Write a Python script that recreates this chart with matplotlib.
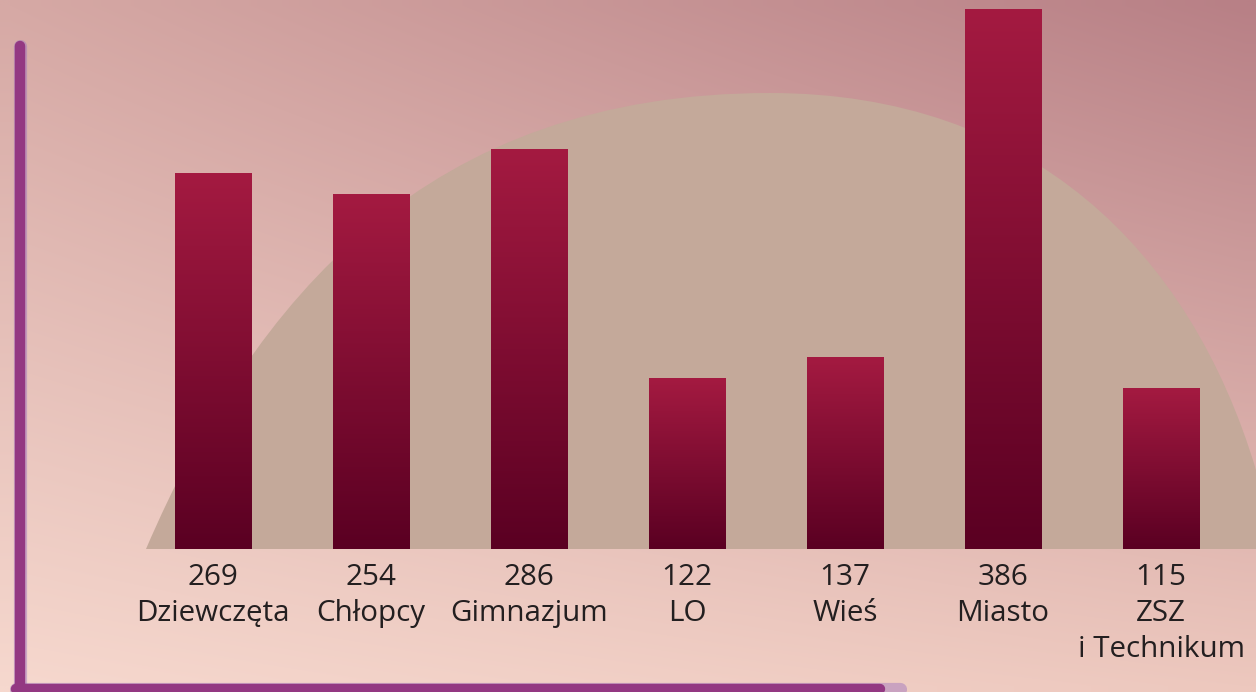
import matplotlib
matplotlib.use("Agg")
import matplotlib.pyplot as plt
import numpy as np
from matplotlib.path import Path
from matplotlib.patches import PathPatch
from matplotlib.colors import LinearSegmentedColormap

# data
categories = ["Dziewczęta", "Chłopcy", "Gimnazjum", "LO", "Wieś", "Miasto", "ZSZ\ni Technikum"]
values = [269, 254, 286, 122, 137, 386, 115]

W, H = 1256, 692
fig = plt.figure(figsize=(W / 100, H / 100), dpi=100)

# background in pixel coordinates
bg = fig.add_axes([0, 0, 1, 1])
bg.set_xlim(0, W)
bg.set_ylim(H, 0)
bg.axis("off")

tl = np.array([214, 169, 165]) / 255
tr = np.array([184, 128, 134]) / 255
bl = np.array([246, 216, 206]) / 255
br = np.array([237, 200, 190]) / 255
gy, gx = np.mgrid[0:1:60j, 0:1:60j]
grad = (tl * ((1 - gx) * (1 - gy))[..., None] + tr * (gx * (1 - gy))[..., None]
        + bl * ((1 - gx) * gy)[..., None] + br * (gx * gy)[..., None])
bg.imshow(grad, extent=[0, W, H, 0], interpolation="bilinear", aspect="auto", zorder=0)

# beige arch behind the bars
verts = [(146, 549), (254, 298), (427, 93), (770, 93),
         (1030, 93), (1190, 250), (1256, 470), (1256, 549), (146, 549)]
codes = [Path.MOVETO, Path.CURVE4, Path.CURVE4, Path.CURVE4,
         Path.CURVE4, Path.CURVE4, Path.CURVE4, Path.LINETO, Path.CLOSEPOLY]
bg.add_patch(PathPatch(Path(verts, codes), facecolor="#C4A99A", edgecolor="none", zorder=1))

# purple frame (left and bottom)
frame = "#933882"
bg.plot([19.5, 19.5], [46, 690], color="#9B6FBF", lw=9.5, alpha=0.45, solid_capstyle="round", zorder=2)
bg.plot([19.5, 19.5], [46, 690], color=frame, lw=7.5, solid_capstyle="round", zorder=3)
bg.plot([16, 900], [689, 689], color="#9B6FBF", lw=9.5, alpha=0.45, solid_capstyle="round", zorder=2)
bg.plot([16, 880], [689, 689], color=frame, lw=7.5, solid_capstyle="round", zorder=3)

# bars
ax = fig.add_axes([0, (H - 549) / H, 1, 549 / H])
ax.patch.set_alpha(0)
x = np.arange(len(values))
w = 0.481
cmap = LinearSegmentedColormap.from_list("bar", ["#5A0022", "#A41A41"])
ramp = np.linspace(0, 1, 256).reshape(-1, 1)
for xi, v in zip(x, values):
    ax.imshow(ramp, cmap=cmap, origin="lower", aspect="auto",
              extent=[xi - w / 2, xi + w / 2, 0, v], zorder=2)

ax.set_xlim(-1.348, 6.601)
ax.set_ylim(0, 393)
for s in ax.spines.values():
    s.set_visible(False)
ax.set_yticks([])
ax.set_xticks(x)
ax.set_xticklabels([f"{v}\n{c}" for v, c in zip(values, categories)],
                   fontsize=21.3, family="Open Sans", color="#231F20", linespacing=1.33)
ax.tick_params(axis="x", length=0, pad=10)

fig.savefig("out.png", dpi=100)
